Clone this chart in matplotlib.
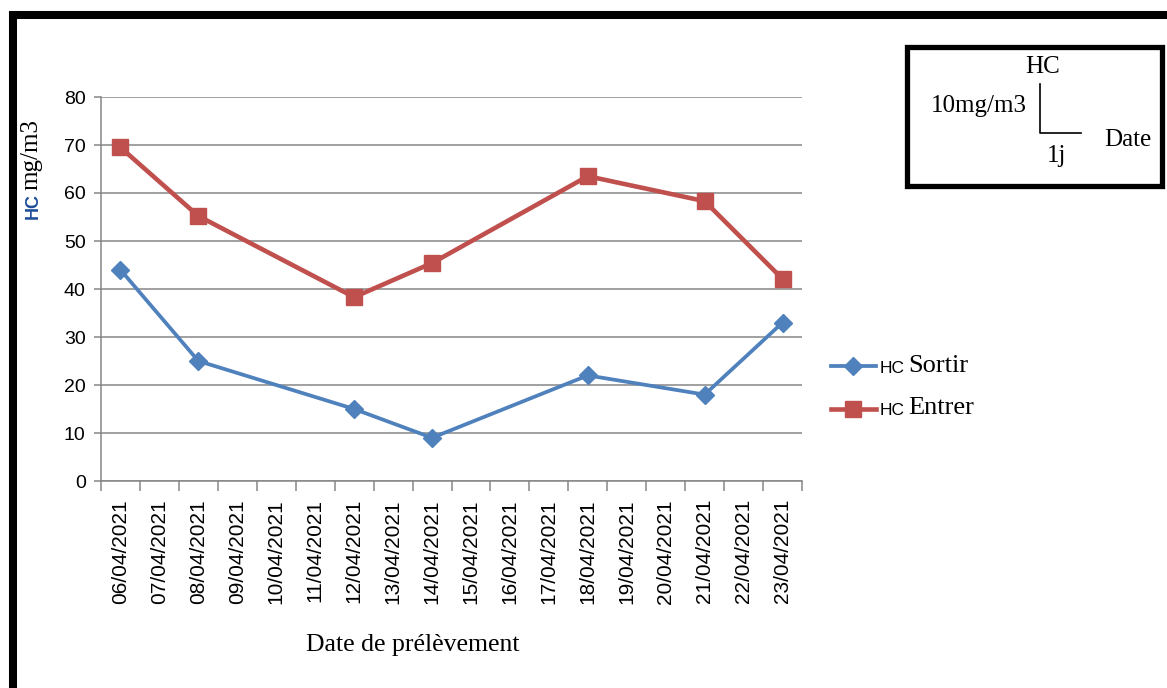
import numpy as np
import matplotlib.pyplot as plt
from matplotlib.patches import Rectangle
from matplotlib.lines import Line2D

dates = ['06/04/2021', '07/04/2021', '08/04/2021', '09/04/2021', '10/04/2021',
         '11/04/2021', '12/04/2021', '13/04/2021', '14/04/2021', '15/04/2021',
         '16/04/2021', '17/04/2021', '18/04/2021', '19/04/2021', '20/04/2021',
         '21/04/2021', '22/04/2021', '23/04/2021']
sample_idx = [0, 2, 6, 8, 12, 15, 17]
hc_sortir = [44, 25, 15, 9, 22, 18, 33]
hc_entrer = [69.5, 55.2, 38.3, 45.4, 63.5, 58.3, 42.1]

blue = '#4F81BD'
red = '#C0504D'
grid_col = '#868686'
serif = 'Liberation Serif'
sans = 'Liberation Sans'

W, H = 1167, 688
fig = plt.figure(figsize=(W / 100, H / 100), dpi=100)
ax = fig.add_axes([101 / W, 1 - 481 / H, 701 / W, 384 / H])

x = np.arange(len(dates))
l1, = ax.plot(sample_idx, hc_sortir, color=blue, lw=2.7, marker='D', ms=9,
              mfc=blue, mec=blue, label='HC', zorder=3)
l2, = ax.plot(sample_idx, hc_entrer, color=red, lw=3.3, marker='s', ms=12,
              mfc=red, mec=red, label='HC', zorder=3)

ax.set_xlim(-0.5, len(dates) - 0.5)
ax.set_ylim(0, 80)
ax.set_yticks(np.arange(0, 81, 10))
ax.yaxis.grid(True, color=grid_col, lw=1.1)
ax.set_axisbelow(True)
ax.set_xticks(x)
ax.set_xticklabels(dates, rotation=90, fontfamily=sans, fontsize=15)
ax.set_xticks(np.arange(-0.5, len(dates)), minor=True)
ax.tick_params(axis='x', which='major', length=0, pad=13)
ax.tick_params(axis='x', which='minor', length=7, color=grid_col, width=1.1)
ax.tick_params(axis='y', length=5, color=grid_col, width=1.1, pad=6)
for lab in ax.get_yticklabels():
    lab.set_fontfamily(sans)
    lab.set_fontsize(14)
for s in ['top', 'right']:
    ax.spines[s].set_visible(False)
for s in ['left', 'bottom']:
    ax.spines[s].set_color(grid_col)
    ax.spines[s].set_linewidth(1.1)

fig.text(413 / W, 1 - 645 / H, 'Date de prélèvement', fontfamily=serif,
         fontsize=18.5, ha='center', va='center')

# y label: blue "HC" + serif "mg/m3"
fig.text(33 / W, 1 - 206 / H, 'HC', color='#1F4E99', fontfamily=sans,
         fontweight='bold', fontsize=13, rotation=90, ha='center', va='center')
fig.text(31 / W, 1 - 155 / H, 'mg/m3', fontfamily=serif, fontsize=18,
         rotation=90, ha='center', va='center')

# series legend
leg = fig.legend(handles=[l1, l2], labels=['HC', 'HC'], loc='center left',
                 bbox_to_anchor=(815 / W, 1 - 389 / H), frameon=False,
                 prop={'family': sans, 'size': 12.5}, handlelength=2.6,
                 handletextpad=0.2, labelspacing=1.55)
fig.canvas.draw()
for t, name in zip(leg.get_texts(), ['Sortir', 'Entrer']):
    bb = t.get_window_extent()
    fig.text((bb.x1 + 4) / W, (bb.y0 + bb.y1) / 2 / H + 0.003, name,
             fontfamily=serif, fontsize=19, ha='left', va='center')

# thick outer frame
fig.patches.append(Rectangle((13 / W, -0.2), 1.5, 1.2 - 15 / H, transform=fig.transFigure,
                             fill=False, ec='black', lw=5.8, zorder=10))

# scale box
fig.patches.append(Rectangle((907 / W, 1 - 186 / H), 255 / W, 139 / H,
                             transform=fig.transFigure, fill=False, ec='black',
                             lw=3.8, zorder=10))
fig.text(1043 / W, 1 - 67 / H, 'HC', fontfamily=serif, fontsize=18,
         ha='center', va='center')
fig.text(979 / W, 1 - 106 / H, '10mg/m3', fontfamily=serif, fontsize=18,
         ha='center', va='center')
fig.text(1057 / W, 1 - 156 / H, '1j', fontfamily=serif, fontsize=18,
         ha='center', va='center')
fig.text(1128 / W, 1 - 140 / H, 'Date', fontfamily=serif, fontsize=18,
         ha='center', va='center')
fig.add_artist(Line2D([1040 / W, 1040 / W, 1081 / W],
                      [1 - 84 / H, 1 - 133 / H, 1 - 133 / H],
                      transform=fig.transFigure, color='black', lw=1.2))

fig.savefig('out.png', dpi=100)
